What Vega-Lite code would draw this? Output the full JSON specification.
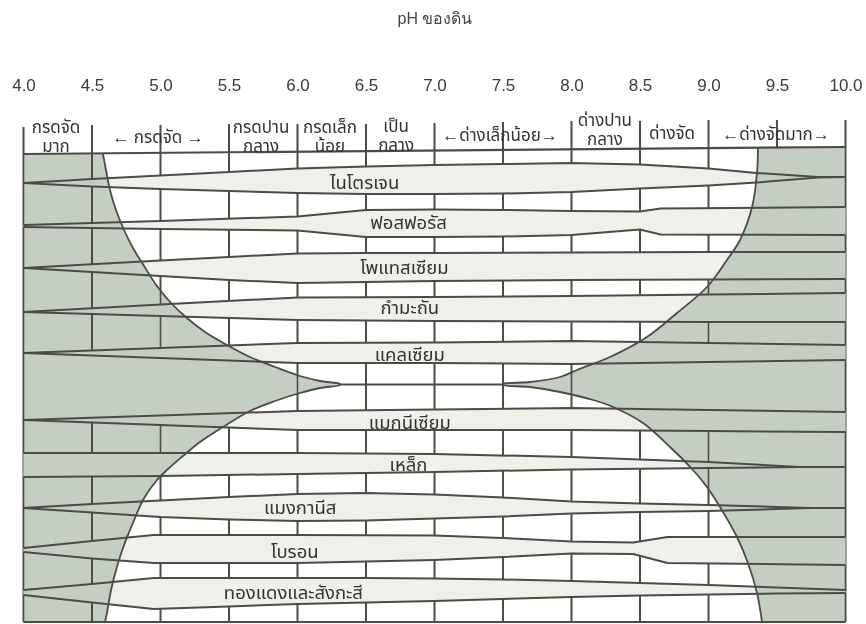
{
  "$schema": "https://vega.github.io/schema/vega-lite/v6.json",
  "width": 822,
  "height": 502,
  "autosize": {"type": "none"},
  "padding": {"left": 23.5, "right": 20.5, "top": 120, "bottom": 2},
  "background": "#ffffff",
  "config": {
    "view": {"stroke": null},
    "axis": {"grid": false, "domain": false, "ticks": false, "tickSize": 0}
  },
  "datasets": {
    "grid": [
      {"pH": 4.0, "y1": 127, "y2": 622},
      {"pH": 4.5, "y1": 125, "y2": 353}, {"pH": 4.5, "y1": 420, "y2": 622},
      {"pH": 5.0, "y1": 125, "y2": 353}, {"pH": 5.0, "y1": 420, "y2": 622},
      {"pH": 5.5, "y1": 124, "y2": 353}, {"pH": 5.5, "y1": 420, "y2": 622},
      {"pH": 6.0, "y1": 124, "y2": 622},
      {"pH": 6.5, "y1": 124, "y2": 622},
      {"pH": 7.0, "y1": 123, "y2": 622},
      {"pH": 7.5, "y1": 122, "y2": 622},
      {"pH": 8.0, "y1": 121, "y2": 622},
      {"pH": 8.5, "y1": 121, "y2": 353}, {"pH": 8.5, "y1": 420, "y2": 622},
      {"pH": 9.0, "y1": 120, "y2": 353}, {"pH": 9.0, "y1": 420, "y2": 622},
      {"pH": 9.5, "y1": 120, "y2": 148},
      {"pH": 10.0, "y1": 120, "y2": 622}
    ],
    "bands": [
      {"n": "ไนโตรเจน", "pH": 4.0, "top": 183, "bot": 183},
      {"n": "ไนโตรเจน", "pH": 4.5, "top": 179, "bot": 186.5},
      {"n": "ไนโตรเจน", "pH": 5.0, "top": 175.5, "bot": 189},
      {"n": "ไนโตรเจน", "pH": 5.5, "top": 172, "bot": 191},
      {"n": "ไนโตรเจน", "pH": 6.0, "top": 168.5, "bot": 193},
      {"n": "ไนโตรเจน", "pH": 6.5, "top": 166.5, "bot": 194},
      {"n": "ไนโตรเจน", "pH": 7.0, "top": 165, "bot": 194},
      {"n": "ไนโตรเจน", "pH": 7.5, "top": 164, "bot": 193.5},
      {"n": "ไนโตรเจน", "pH": 8.0, "top": 163, "bot": 192},
      {"n": "ไนโตรเจน", "pH": 8.5, "top": 164.5, "bot": 188.5},
      {"n": "ไนโตรเจน", "pH": 9.0, "top": 168.5, "bot": 185.5},
      {"n": "ไนโตรเจน", "pH": 9.35, "top": 173, "bot": 182.5},
      {"n": "ไนโตรเจน", "pH": 9.8, "top": 177, "bot": 177.5},
      {"n": "ไนโตรเจน", "pH": 10.0, "top": 177, "bot": 177},
      {"n": "ฟอสฟอรัส", "pH": 4.0, "top": 225, "bot": 227},
      {"n": "ฟอสฟอรัส", "pH": 5.0, "top": 221, "bot": 229},
      {"n": "ฟอสฟอรัส", "pH": 6.0, "top": 216.5, "bot": 230.5},
      {"n": "ฟอสฟอรัส", "pH": 6.5, "top": 210, "bot": 237},
      {"n": "ฟอสฟอรัส", "pH": 7.0, "top": 209.5, "bot": 237},
      {"n": "ฟอสฟอรัส", "pH": 7.5, "top": 210, "bot": 236.5},
      {"n": "ฟอสฟอรัส", "pH": 8.0, "top": 211, "bot": 235},
      {"n": "ฟอสฟอรัส", "pH": 8.5, "top": 211.5, "bot": 229.5},
      {"n": "ฟอสฟอรัส", "pH": 8.65, "top": 208.5, "bot": 234.5},
      {"n": "ฟอสฟอรัส", "pH": 10.0, "top": 207, "bot": 235},
      {"n": "โพแทสเซียม", "pH": 4.0, "top": 268, "bot": 268},
      {"n": "โพแทสเซียม", "pH": 5.0, "top": 260.5, "bot": 276},
      {"n": "โพแทสเซียม", "pH": 5.5, "top": 257, "bot": 280},
      {"n": "โพแทสเซียม", "pH": 6.0, "top": 253.5, "bot": 283},
      {"n": "โพแทสเซียม", "pH": 6.5, "top": 253, "bot": 282},
      {"n": "โพแทสเซียม", "pH": 7.0, "top": 253, "bot": 281},
      {"n": "โพแทสเซียม", "pH": 8.0, "top": 252.5, "bot": 280},
      {"n": "โพแทสเซียม", "pH": 9.0, "top": 252, "bot": 279.5},
      {"n": "โพแทสเซียม", "pH": 10.0, "top": 252, "bot": 279},
      {"n": "กำมะถัน", "pH": 4.0, "top": 312, "bot": 312},
      {"n": "กำมะถัน", "pH": 5.0, "top": 304.5, "bot": 316},
      {"n": "กำมะถัน", "pH": 6.0, "top": 297.5, "bot": 320},
      {"n": "กำมะถัน", "pH": 7.0, "top": 297, "bot": 321},
      {"n": "กำมะถัน", "pH": 8.0, "top": 296, "bot": 321.5},
      {"n": "กำมะถัน", "pH": 9.0, "top": 294.5, "bot": 322},
      {"n": "กำมะถัน", "pH": 10.0, "top": 293, "bot": 322},
      {"n": "แคลเซียม", "pH": 4.0, "top": 353, "bot": 353},
      {"n": "แคลเซียม", "pH": 5.0, "top": 348, "bot": 358},
      {"n": "แคลเซียม", "pH": 6.0, "top": 343, "bot": 363},
      {"n": "แคลเซียม", "pH": 7.0, "top": 342.5, "bot": 363},
      {"n": "แคลเซียม", "pH": 8.0, "top": 341, "bot": 364},
      {"n": "แคลเซียม", "pH": 9.0, "top": 343, "bot": 362},
      {"n": "แคลเซียม", "pH": 10.0, "top": 345, "bot": 360},
      {"n": "แมกนีเซียม", "pH": 4.0, "top": 420, "bot": 420},
      {"n": "แมกนีเซียม", "pH": 5.0, "top": 415.5, "bot": 425},
      {"n": "แมกนีเซียม", "pH": 6.0, "top": 411, "bot": 430},
      {"n": "แมกนีเซียม", "pH": 7.0, "top": 409.5, "bot": 430},
      {"n": "แมกนีเซียม", "pH": 8.0, "top": 408, "bot": 430},
      {"n": "แมกนีเซียม", "pH": 9.0, "top": 410, "bot": 431},
      {"n": "แมกนีเซียม", "pH": 10.0, "top": 412, "bot": 432},
      {"n": "เหล็ก", "pH": 4.0, "top": 453, "bot": 477},
      {"n": "เหล็ก", "pH": 5.0, "top": 453, "bot": 476},
      {"n": "เหล็ก", "pH": 6.0, "top": 453, "bot": 474},
      {"n": "เหล็ก", "pH": 7.0, "top": 454, "bot": 472},
      {"n": "เหล็ก", "pH": 8.0, "top": 457, "bot": 469.5},
      {"n": "เหล็ก", "pH": 9.0, "top": 462, "bot": 468},
      {"n": "เหล็ก", "pH": 9.67, "top": 467, "bot": 467},
      {"n": "เหล็ก", "pH": 10.0, "top": 467, "bot": 467},
      {"n": "แมงกานีส", "pH": 4.0, "top": 508, "bot": 508},
      {"n": "แมงกานีส", "pH": 4.5, "top": 504, "bot": 512.5},
      {"n": "แมงกานีส", "pH": 5.0, "top": 500.5, "bot": 517},
      {"n": "แมงกานีส", "pH": 5.5, "top": 497, "bot": 519.5},
      {"n": "แมงกานีส", "pH": 6.0, "top": 494, "bot": 521},
      {"n": "แมงกานีส", "pH": 6.5, "top": 493, "bot": 520.5},
      {"n": "แมงกานีส", "pH": 7.0, "top": 494.5, "bot": 518.5},
      {"n": "แมงกานีส", "pH": 7.5, "top": 497.5, "bot": 516.5},
      {"n": "แมงกานีส", "pH": 8.0, "top": 501.5, "bot": 513.5},
      {"n": "แมงกานีส", "pH": 8.5, "top": 503.5, "bot": 512},
      {"n": "แมงกานีส", "pH": 9.0, "top": 505, "bot": 511},
      {"n": "แมงกานีส", "pH": 9.5, "top": 507, "bot": 509},
      {"n": "แมงกานีส", "pH": 9.75, "top": 508, "bot": 508},
      {"n": "แมงกานีส", "pH": 10.0, "top": 508, "bot": 508},
      {"n": "โบรอน", "pH": 4.0, "top": 548, "bot": 552},
      {"n": "โบรอน", "pH": 4.5, "top": 541, "bot": 558.5},
      {"n": "โบรอน", "pH": 4.95, "top": 535, "bot": 563},
      {"n": "โบรอน", "pH": 6.0, "top": 535, "bot": 563},
      {"n": "โบรอน", "pH": 7.0, "top": 535.5, "bot": 560},
      {"n": "โบรอน", "pH": 7.5, "top": 538, "bot": 557},
      {"n": "โบรอน", "pH": 8.0, "top": 541.5, "bot": 553.5},
      {"n": "โบรอน", "pH": 8.45, "top": 542.5, "bot": 554},
      {"n": "โบรอน", "pH": 8.7, "top": 537, "bot": 563},
      {"n": "โบรอน", "pH": 10.0, "top": 537, "bot": 565},
      {"n": "ทองแดงและสังกะสี", "pH": 4.0, "top": 590, "bot": 595},
      {"n": "ทองแดงและสังกะสี", "pH": 4.5, "top": 584, "bot": 602.5},
      {"n": "ทองแดงและสังกะสี", "pH": 4.95, "top": 578, "bot": 609},
      {"n": "ทองแดงและสังกะสี", "pH": 5.5, "top": 578, "bot": 606.5},
      {"n": "ทองแดงและสังกะสี", "pH": 6.0, "top": 578, "bot": 604},
      {"n": "ทองแดงและสังกะสี", "pH": 6.5, "top": 578, "bot": 602.5},
      {"n": "ทองแดงและสังกะสี", "pH": 7.0, "top": 578.5, "bot": 601},
      {"n": "ทองแดงและสังกะสี", "pH": 7.5, "top": 579.5, "bot": 599},
      {"n": "ทองแดงและสังกะสี", "pH": 8.0, "top": 581, "bot": 597},
      {"n": "ทองแดงและสังกะสี", "pH": 8.5, "top": 583, "bot": 595.5},
      {"n": "ทองแดงและสังกะสี", "pH": 9.0, "top": 585, "bot": 594.5},
      {"n": "ทองแดงและสังกะสี", "pH": 9.5, "top": 587.5, "bot": 593.5},
      {"n": "ทองแดงและสังกะสี", "pH": 10.0, "top": 590, "bot": 593}
    ],
    "leftZone": [
      {"y": 154, "pH": 4.580}, {"y": 170, "pH": 4.602}, {"y": 190, "pH": 4.631}, {"y": 210, "pH": 4.675},
      {"y": 230, "pH": 4.734}, {"y": 248, "pH": 4.799}, {"y": 266, "pH": 4.880}, {"y": 286, "pH": 4.974},
      {"y": 304, "pH": 5.084}, {"y": 318, "pH": 5.193}, {"y": 332, "pH": 5.325}, {"y": 345, "pH": 5.485},
      {"y": 357, "pH": 5.653}, {"y": 367, "pH": 5.836}, {"y": 376, "pH": 6.018}, {"y": 381, "pH": 6.164},
      {"y": 384, "pH": 6.310}, {"y": 385, "pH": 6.310}, {"y": 388, "pH": 6.164}, {"y": 393, "pH": 6.018},
      {"y": 401, "pH": 5.836}, {"y": 411, "pH": 5.653}, {"y": 427, "pH": 5.456}, {"y": 442, "pH": 5.288},
      {"y": 456, "pH": 5.164}, {"y": 469, "pH": 5.055}, {"y": 480, "pH": 4.974}, {"y": 500, "pH": 4.872},
      {"y": 523, "pH": 4.799}, {"y": 545, "pH": 4.734}, {"y": 567, "pH": 4.682}, {"y": 590, "pH": 4.639},
      {"y": 613, "pH": 4.609}, {"y": 622, "pH": 4.595}
    ],
    "rightZone": [
      {"y": 148, "pH": 9.361}, {"y": 173, "pH": 9.354}, {"y": 207, "pH": 9.318}, {"y": 240, "pH": 9.230},
      {"y": 260, "pH": 9.135}, {"y": 287, "pH": 8.989}, {"y": 313, "pH": 8.770}, {"y": 337, "pH": 8.551},
      {"y": 357, "pH": 8.281}, {"y": 370, "pH": 8.040}, {"y": 377, "pH": 7.916}, {"y": 382, "pH": 7.697},
      {"y": 384, "pH": 7.500}, {"y": 385, "pH": 7.500}, {"y": 387, "pH": 7.697}, {"y": 392, "pH": 7.916},
      {"y": 400, "pH": 8.157}, {"y": 407, "pH": 8.303}, {"y": 423, "pH": 8.522}, {"y": 447, "pH": 8.719},
      {"y": 470, "pH": 8.887}, {"y": 487, "pH": 8.989}, {"y": 507, "pH": 9.084}, {"y": 537, "pH": 9.208},
      {"y": 563, "pH": 9.288}, {"y": 593, "pH": 9.354}, {"y": 622, "pH": 9.391}
    ],
    "hlines": [
      {"pH": 4.0, "b": 10.0, "y1": 154, "y2": 147},
      {"pH": 6.31, "b": 7.5, "y1": 384.5, "y2": 384.5},
      {"pH": 4.0, "b": 10.0, "y1": 622, "y2": 622}
    ],
    "zones": [
      {"t": "กรดจัด\nมาก", "pH": 4.237, "y": 128},
      {"t": "←   กรดจัด   →", "pH": 4.982, "y": 138},
      {"t": "กรดปาน\nกลาง", "pH": 5.734, "y": 128},
      {"t": "กรดเล็ก\nน้อย", "pH": 6.237, "y": 127.5},
      {"t": "เป็น\nกลาง", "pH": 6.72, "y": 126.5},
      {"t": "←ด่างเล็กน้อย→", "pH": 7.478, "y": 136},
      {"t": "ด่างปาน\nกลาง", "pH": 8.244, "y": 121},
      {"t": "ด่างจัด", "pH": 8.734, "y": 134},
      {"t": "←ด่างจัดมาก→", "pH": 9.493, "y": 135}
    ],
    "names": [
      {"t": "ไนโตรเจน", "pH": 6.49, "y": 183},
      {"t": "ฟอสฟอรัส", "pH": 6.81, "y": 223},
      {"t": "โพแทสเซียม", "pH": 6.78, "y": 268},
      {"t": "กำมะถัน", "pH": 6.82, "y": 308},
      {"t": "แคลเซียม", "pH": 6.82, "y": 355},
      {"t": "แมกนีเซียม", "pH": 6.82, "y": 423},
      {"t": "เหล็ก", "pH": 6.81, "y": 465},
      {"t": "แมงกานีส", "pH": 6.02, "y": 508},
      {"t": "โบรอน", "pH": 5.98, "y": 552},
      {"t": "ทองแดงและสังกะสี", "pH": 5.97, "y": 593}
    ]
  },
  "layer": [
    {
      "data": {"name": "grid"},
      "mark": {"type": "rule", "color": "#4b4c46", "strokeWidth": 2},
      "encoding": {
        "x": {
          "field": "pH", "type": "quantitative",
          "scale": {"domain": [4, 10], "nice": false, "zero": false},
          "axis": {
            "orient": "top", "values": [4, 4.5, 5, 5.5, 6, 6.5, 7, 7.5, 8, 8.5, 9, 9.5, 10],
            "format": ".1f", "labelFontSize": 17, "labelColor": "#3a3a3a", "labelFont": "Liberation Sans",
            "domain": false, "ticks": false, "tickSize": 0, "grid": false, "labelPadding": 26,
            "labelFlush": false, "labelOverlap": false,
            "title": "pH ของดิน", "titleFontSize": 16, "titleFontWeight": "normal", "titleColor": "#444444",
            "titleFont": "Liberation Sans", "titleY": -102, "titleBaseline": "middle"
          }
        },
        "y": {"field": "y1", "type": "quantitative", "scale": {"domain": [622, 120], "nice": false, "zero": false}, "axis": null},
        "y2": {"field": "y2"}
      }
    },
    {
      "data": {"name": "bands"},
      "mark": {"type": "area", "color": "#eef0e9", "orient": "vertical"},
      "encoding": {
        "x": {"field": "pH", "type": "quantitative"},
        "y": {"field": "top", "type": "quantitative", "axis": null},
        "y2": {"field": "bot"},
        "detail": {"field": "n"}
      }
    },
    {
      "data": {"name": "leftZone"},
      "mark": {"type": "area", "orient": "horizontal", "color": "#c5cec3", "blend": "darken", "interpolate": "catmull-rom"},
      "encoding": {
        "y": {"field": "y", "type": "quantitative", "axis": null},
        "x": {"field": "pH", "type": "quantitative"},
        "x2": {"datum": 4}
      }
    },
    {
      "data": {"name": "rightZone"},
      "mark": {"type": "area", "orient": "horizontal", "color": "#c5cec3", "blend": "darken", "interpolate": "catmull-rom"},
      "encoding": {
        "y": {"field": "y", "type": "quantitative", "axis": null},
        "x": {"field": "pH", "type": "quantitative"},
        "x2": {"datum": 10}
      }
    },
    {
      "data": {"name": "bands"},
      "mark": {"type": "line", "color": "#4b4c46", "strokeWidth": 2},
      "encoding": {
        "x": {"field": "pH", "type": "quantitative"},
        "y": {"field": "top", "type": "quantitative", "axis": null},
        "detail": {"field": "n"}
      }
    },
    {
      "data": {"name": "bands"},
      "mark": {"type": "line", "color": "#4b4c46", "strokeWidth": 2},
      "encoding": {
        "x": {"field": "pH", "type": "quantitative"},
        "y": {"field": "bot", "type": "quantitative", "axis": null},
        "detail": {"field": "n"}
      }
    },
    {
      "data": {"name": "leftZone"},
      "mark": {"type": "line", "color": "#4b4c46", "strokeWidth": 1.8, "interpolate": "catmull-rom"},
      "encoding": {
        "x": {"field": "pH", "type": "quantitative"},
        "y": {"field": "y", "type": "quantitative", "axis": null},
        "order": {"field": "y"}
      }
    },
    {
      "data": {"name": "rightZone"},
      "mark": {"type": "line", "color": "#4b4c46", "strokeWidth": 1.8, "interpolate": "catmull-rom"},
      "encoding": {
        "x": {"field": "pH", "type": "quantitative"},
        "y": {"field": "y", "type": "quantitative", "axis": null},
        "order": {"field": "y"}
      }
    },
    {
      "data": {"name": "hlines"},
      "mark": {"type": "rule", "color": "#4b4c46", "strokeWidth": 2.2},
      "encoding": {
        "x": {"field": "pH", "type": "quantitative"},
        "x2": {"field": "b"},
        "y": {"field": "y1", "type": "quantitative", "axis": null},
        "y2": {"field": "y2"}
      }
    },
    {
      "data": {"name": "zones"},
      "mark": {"type": "text", "fontSize": 17, "lineHeight": 19, "lineBreak": "\n", "color": "#333333", "align": "center", "baseline": "middle", "font": "Noto Sans Thai, Tahoma, Loma, Garuda, sans-serif"},
      "encoding": {
        "x": {"field": "pH", "type": "quantitative"},
        "y": {"field": "y", "type": "quantitative", "axis": null},
        "text": {"field": "t"}
      }
    },
    {
      "data": {"name": "names"},
      "mark": {"type": "text", "fontSize": 18.5, "color": "#333333", "align": "center", "baseline": "middle", "font": "Noto Sans Thai, Tahoma, Loma, Garuda, sans-serif"},
      "encoding": {
        "x": {"field": "pH", "type": "quantitative"},
        "y": {"field": "y", "type": "quantitative", "axis": null},
        "text": {"field": "t"}
      }
    }
  ]
}
